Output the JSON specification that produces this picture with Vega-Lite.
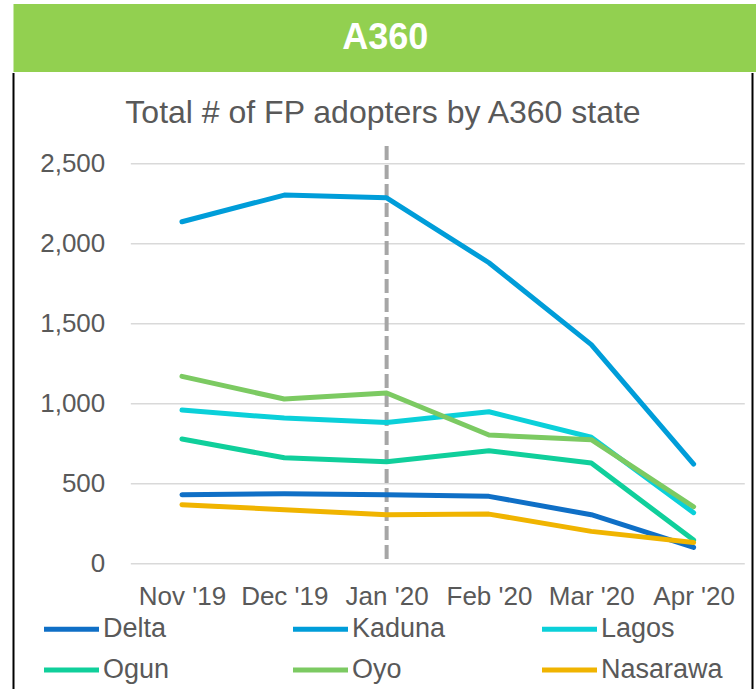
{
  "$schema": "https://vega.github.io/schema/vega-lite/v6.json",
  "padding": {"left": 12.5, "top": 4, "right": 0, "bottom": 0},
  "background": "white",
  "spacing": 0,
  "config": {"font": "Liberation Sans", "view": {"stroke": null}},
  "vconcat": [
    {
      "width": 743.5,
      "height": 68,
      "view": {"fill": "#92D050", "stroke": null},
      "data": {"values": [{"label": "A360"}]},
      "mark": {"type": "text", "font": "Liberation Sans", "fontWeight": "bold", "fontSize": 36, "color": "white", "baseline": "middle", "align": "center"},
      "encoding": {"text": {"field": "label", "type": "nominal"}}
    },
    {
      "width": 739,
      "height": 617,
      "view": {"stroke": "black", "strokeWidth": 2, "fill": null, "strokeDash": [0, 739, 617, 739, 617]},
      "layer": [
        {
          "data": {"values": [{"v": 0}, {"v": 500}, {"v": 1000}, {"v": 1500}, {"v": 2000}, {"v": 2500}]},
          "mark": {"type": "rule", "color": "#D9D9D9", "strokeWidth": 1.5},
          "encoding": {
            "y": {"field": "v", "type": "quantitative", "title": null, "scale": {"domain": [-789.4, 3066.9], "nice": false, "zero": false}},
            "x": {"datum": -0.5, "type": "quantitative", "title": null, "scale": {"domain": [-1.6463, 5.5754], "nice": false, "zero": false}},
            "x2": {"datum": 5.5}
          }
        },
        {
          "data": {"values": [{"label": "Total # of FP adopters by A360 state"}]},
          "mark": {"type": "text", "fontSize": 32, "color": "#595959", "baseline": "alphabetic", "align": "center"},
          "encoding": {
            "text": {"field": "label", "type": "nominal"},
            "y": {"datum": 2754.4, "type": "quantitative", "title": null}
          }
        },
        {
          "data": {"values": [{}]},
          "mark": {"type": "rule", "color": "#A6A6A6", "strokeWidth": 4, "strokeDash": [14, 5]},
          "encoding": {
            "x": {"datum": 2, "type": "quantitative", "title": null},
            "y": {"datum": 30, "type": "quantitative", "title": null},
            "y2": {"datum": 2640}
          }
        },
        {
          "data": {"values": [
            {"month": "Nov '19", "m": 0, "state": "Delta", "v": 431},
            {"month": "Dec '19", "m": 1, "state": "Delta", "v": 437},
            {"month": "Jan '20", "m": 2, "state": "Delta", "v": 431},
            {"month": "Feb '20", "m": 3, "state": "Delta", "v": 421},
            {"month": "Mar '20", "m": 4, "state": "Delta", "v": 306},
            {"month": "Apr '20", "m": 5, "state": "Delta", "v": 102},
            {"month": "Nov '19", "m": 0, "state": "Kaduna", "v": 2137},
            {"month": "Dec '19", "m": 1, "state": "Kaduna", "v": 2304},
            {"month": "Jan '20", "m": 2, "state": "Kaduna", "v": 2287},
            {"month": "Feb '20", "m": 3, "state": "Kaduna", "v": 1881},
            {"month": "Mar '20", "m": 4, "state": "Kaduna", "v": 1369},
            {"month": "Apr '20", "m": 5, "state": "Kaduna", "v": 623},
            {"month": "Nov '19", "m": 0, "state": "Lagos", "v": 960},
            {"month": "Dec '19", "m": 1, "state": "Lagos", "v": 910},
            {"month": "Jan '20", "m": 2, "state": "Lagos", "v": 883},
            {"month": "Feb '20", "m": 3, "state": "Lagos", "v": 950},
            {"month": "Mar '20", "m": 4, "state": "Lagos", "v": 790},
            {"month": "Apr '20", "m": 5, "state": "Lagos", "v": 319},
            {"month": "Nov '19", "m": 0, "state": "Ogun", "v": 779},
            {"month": "Dec '19", "m": 1, "state": "Ogun", "v": 662},
            {"month": "Jan '20", "m": 2, "state": "Ogun", "v": 637},
            {"month": "Feb '20", "m": 3, "state": "Ogun", "v": 706},
            {"month": "Mar '20", "m": 4, "state": "Ogun", "v": 629},
            {"month": "Apr '20", "m": 5, "state": "Ogun", "v": 148},
            {"month": "Nov '19", "m": 0, "state": "Oyo", "v": 1171},
            {"month": "Dec '19", "m": 1, "state": "Oyo", "v": 1029},
            {"month": "Jan '20", "m": 2, "state": "Oyo", "v": 1067},
            {"month": "Feb '20", "m": 3, "state": "Oyo", "v": 804},
            {"month": "Mar '20", "m": 4, "state": "Oyo", "v": 775},
            {"month": "Apr '20", "m": 5, "state": "Oyo", "v": 356},
            {"month": "Nov '19", "m": 0, "state": "Nasarawa", "v": 369},
            {"month": "Dec '19", "m": 1, "state": "Nasarawa", "v": 337},
            {"month": "Jan '20", "m": 2, "state": "Nasarawa", "v": 306},
            {"month": "Feb '20", "m": 3, "state": "Nasarawa", "v": 310},
            {"month": "Mar '20", "m": 4, "state": "Nasarawa", "v": 202},
            {"month": "Apr '20", "m": 5, "state": "Nasarawa", "v": 133}
          ]},
          "mark": {"type": "line", "strokeWidth": 5, "strokeCap": "round", "strokeJoin": "round"},
          "encoding": {
            "x": {"field": "m", "type": "quantitative", "title": null,
              "axis": {"orient": "bottom", "offset": -126.3, "values": [0, 1, 2, 3, 4, 5],
                "labelExpr": "[\"Nov '19\",\"Dec '19\",\"Jan '20\",\"Feb '20\",\"Mar '20\",\"Apr '20\"][datum.value]",
                "domain": false, "ticks": false, "tickSize": 0, "grid": false, "labelPadding": 20,
                "labelFontSize": 26, "labelColor": "#595959", "labelFlush": false, "labelOverlap": false}},
            "y": {"field": "v", "type": "quantitative", "title": null,
              "axis": {"offset": -117.3, "values": [0, 500, 1000, 1500, 2000, 2500], "format": ",.0f",
                "domain": false, "ticks": false, "tickSize": 0, "grid": false, "labelPadding": 26,
                "labelFontSize": 26, "labelColor": "#595959"}},
            "color": {"field": "state", "type": "nominal",
              "scale": {"domain": ["Delta", "Kaduna", "Lagos", "Ogun", "Oyo", "Nasarawa"],
                "range": ["#0F6FC6", "#009DD9", "#0BD0D9", "#10CF9B", "#7CCA62", "#F0B400"]},
              "legend": {"title": null, "orient": "none", "legendX": 27, "legendY": 611.5, "direction": "horizontal",
                "columns": 3, "symbolType": "M-1,0H4.5", "symbolSize": 400, "symbolStrokeWidth": 5,
                "labelFontSize": 27, "labelColor": "#595959", "labelOffset": 35.5, "columnPadding": 57,
                "rowPadding": 13, "gridAlign": "all", "padding": 0, "labelLimit": 300}}
          }
        }
      ]
    }
  ]
}
